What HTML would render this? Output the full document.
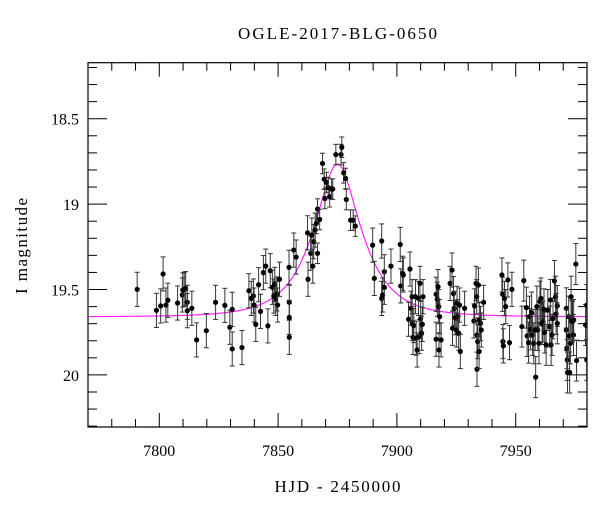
<!DOCTYPE html>
<html><head><meta charset="utf-8"><style>
html,body{margin:0;padding:0;background:#fff}
svg{display:block;font-family:"Liberation Serif",serif}
</style></head><body>
<svg id="chart" width="600" height="512" viewBox="0 0 600 512">
<defs><clipPath id="plotclip"><rect x="88" y="62.7" width="499" height="364.3"/></clipPath></defs>
<text x="337.5" y="39" font-size="17" text-anchor="middle" textLength="199">OGLE-2017-BLG-0650</text>
<text x="337.5" y="492" font-size="17" text-anchor="middle" textLength="126">HJD - 2450000</text>
<text transform="translate(27,246) rotate(-90)" font-size="17" text-anchor="middle" textLength="96">I magnitude</text>
<g id="axes"></g>
<g id="model" clip-path="url(#plotclip)"></g>
<g id="points" clip-path="url(#plotclip)"></g>
<rect x="88" y="62.7" width="499" height="364.3" fill="none" stroke="#000" stroke-width="1.2"/>
</svg>
<script>
const times=[7790.7,7798.8,7800.6,7801.6,7802.8,7803.6,7807.7,7809.7,7809.9,7810.5,7811.1,7811.8,7811.8,7813.7,7815.7,7819.8,7823.7,7827.6,7829.7,7830.7,7830.7,7834.8,7837.7,7838.7,7839.6,7839.9,7840.6,7841.8,7842.6,7843.8,7844.8,7845.7,7846.7,7847.6,7848.2,7848.6,7849.0,7849.5,7849.8,7850.6,7854.6,7854.7,7854.7,7854.7,7856.6,7857.6,7862.4,7862.6,7863.7,7864.2,7864.6,7865.0,7865.6,7866.1,7866.6,7866.6,7867.5,7868.7,7869.4,7869.7,7870.4,7871.1,7871.7,7872.5,7873.0,7874.3,7876.5,7876.8,7877.6,7878.4,7878.7,7880.5,7881.6,7882.5,7889.8,7890.5,7893.6,7893.6,7894.0,7894.7,7894.7,7897.5,7901.4,7901.6,7902.4,7902.7,7905.5,7904.9,7905.9,7906.4,7906.5,7906.8,7907.1,7907.8,7908.1,7908.5,7909.1,7909.4,7909.7,7910.0,7910.4,7910.7,7911.0,7916.5,7916.5,7917.0,7917.3,7917.6,7917.7,7918.0,7918.6,7922.4,7923.2,7923.4,7923.8,7924.1,7924.5,7925.0,7925.3,7925.6,7926.0,7926.7,7926.4,7928.5,7932.4,7932.7,7933.3,7933.6,7933.7,7933.7,7934.0,7934.3,7934.6,7934.7,7935.2,7935.5,7936.5,7944.2,7944.5,7944.6,7944.8,7945.3,7945.8,7946.7,7947.4,7948.4,7952.6,7953.4,7954.5,7954.8,7955.4,7955.8,7956.3,7956.7,7957.1,7957.6,7958.2,7958.4,7958.9,7959.3,7959.8,7960.2,7960.6,7961.1,7961.5,7961.9,7962.2,7962.8,7963.5,7964.3,7964.6,7964.9,7965.3,7965.7,7966.3,7966.8,7967.0,7967.5,7967.5,7971.3,7971.3,7971.5,7971.7,7971.8,7972.3,7972.4,7972.7,7973.0,7973.3,7973.6,7973.9,7974.3,7974.4,7975.3,7975.6,7979.4,7979.9,7979.9];
const mags=[19.499,19.622,19.596,19.409,19.591,19.563,19.579,19.532,19.503,19.499,19.495,19.575,19.624,19.610,19.795,19.741,19.575,19.593,19.721,19.616,19.848,19.840,19.507,19.552,19.538,19.591,19.704,19.472,19.628,19.401,19.363,19.713,19.390,19.487,19.538,19.470,19.552,19.526,19.591,19.440,19.370,19.575,19.663,19.780,19.269,19.310,19.168,19.440,19.288,19.181,19.363,19.220,19.152,19.113,19.288,19.029,19.090,18.762,18.854,18.967,18.873,18.903,18.957,18.912,18.912,18.710,18.710,18.667,18.817,18.850,18.973,19.094,19.094,19.129,19.240,19.435,19.216,19.552,19.532,19.396,19.487,19.363,19.236,19.479,19.405,19.415,19.380,19.674,19.610,19.542,19.698,19.780,19.711,19.542,19.785,19.854,19.552,19.776,19.464,19.669,19.756,19.704,19.542,19.528,19.791,19.557,19.483,19.600,19.854,19.659,19.795,19.464,19.386,19.727,19.524,19.610,19.665,19.737,19.581,19.659,19.756,19.863,19.591,19.610,19.684,19.596,19.464,19.542,19.766,19.967,19.805,19.474,19.863,19.678,19.698,19.737,19.575,19.415,19.528,19.805,19.830,19.552,19.600,19.444,19.811,19.499,19.717,19.448,19.606,19.772,19.811,19.659,19.733,19.635,19.766,19.815,19.737,20.013,19.600,19.737,19.815,19.571,19.552,19.702,19.688,19.616,19.752,19.824,19.620,19.717,19.561,19.824,19.766,19.669,19.450,19.542,19.643,19.596,19.698,19.610,19.737,19.844,19.912,19.986,19.659,19.772,19.986,19.815,19.542,19.682,19.688,19.766,19.678,19.351,19.916,19.708,19.591,19.912];
const errs=times.map(t=>t>=7866&&t<=7883?0.06:(t>7950?0.12:0.10));
const xTicks=[7800,7850,7900,7950];
const yTicks=[18.5,19,19.5,20];
const modelT0=7875, modelU0=0.475, modelTE=17.5, modelBase=19.66;

const X0=7770,X1=7980,Y0=18.172,Y1=20.305;
const PL=88,PR=587,PT=62.7,PB=427;
const sx=d=>PL+(d-X0)/(X1-X0)*(PR-PL);
const sy=m=>PT+(m-Y0)/(Y1-Y0)*(PB-PT);
const NS='http://www.w3.org/2000/svg';
function mk(tag,attrs,parent){const e=document.createElementNS(NS,tag);for(const k in attrs)e.setAttribute(k,attrs[k]);parent.appendChild(e);return e;}
const axes=document.getElementById('axes');
// x ticks
for(let v=7770;v<=7980;v+=10){
  const major=v%50===0;const x=sx(v);const L=major?14:8;
  const t1=mk('line',{x1:x,x2:x,y1:PB,y2:PB-L,stroke:'#000','stroke-width':1},axes);
  
  
  const t2=mk('line',{x1:x,x2:x,y1:PT,y2:PT+L,stroke:'#000','stroke-width':1},axes);
  
  
}
xTicks.forEach(v=>{const t=mk('text',{x:sx(v),y:PB+29,'font-size':16,'text-anchor':'middle'},axes);t.textContent=String(v);
  
  });
// y ticks
for(let i=0;i<=21;i++){
  const v=18.2+i*0.1;if(v>Y1)break;const major=Math.abs(v*2-Math.round(v*2))<1e-6;const y=sy(v);const L=major?19:9;
  const t1=mk('line',{x1:PL,x2:PL+L,y1:y,y2:y,stroke:'#000','stroke-width':1},axes);
  
  
  const t2=mk('line',{x1:PR,x2:PR-L,y1:y,y2:y,stroke:'#000','stroke-width':1},axes);
  
  
}
yTicks.forEach(v=>{const t=mk('text',{x:PL-9,y:sy(v)+6,'font-size':16,'text-anchor':'end'},axes);t.textContent=String(v);
  
  });
// model
const model=document.getElementById('model');
let d='';
for(let t=X0;t<=X1;t+=0.25){const u=Math.sqrt(modelU0*modelU0+Math.pow((t-modelT0)/modelTE,2));const A=(u*u+2)/(u*Math.sqrt(u*u+4));const m=modelBase-2.5*Math.log10(A);d+=(d?'L':'M')+sx(t).toFixed(2)+','+sy(m).toFixed(2);}
const mp=mk('path',{d:d,fill:'none',stroke:'#ff22ff','stroke-width':1.2},model);


// points
const pts=document.getElementById('points');
times.forEach((t,i)=>{
  const g=mk('g',{},pts);
  
  
  const x=sx(t),ya=sy(mags[i]-errs[i]),yb=sy(mags[i]+errs[i]);
  mk('line',{x1:x,x2:x,y1:ya,y2:yb,stroke:'#333','stroke-width':1},g);
  mk('line',{x1:x-2.5,x2:x+2.5,y1:ya,y2:ya,stroke:'#333','stroke-width':1},g);
  mk('line',{x1:x-2.5,x2:x+2.5,y1:yb,y2:yb,stroke:'#333','stroke-width':1},g);
  mk('circle',{cx:x,cy:sy(mags[i]),r:2.6,fill:'#000'},g);
});
</script>
</body></html>
